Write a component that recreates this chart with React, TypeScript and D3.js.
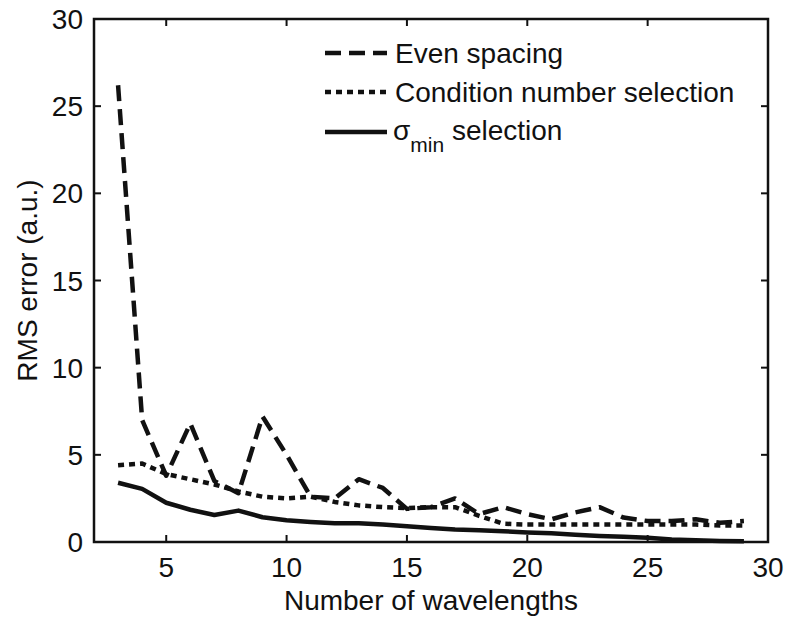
import React, { useRef, useEffect } from "react";
import * as d3 from "d3";

// number of wavelengths
const wavelengths = [3, 4, 5, 6, 7, 8, 9, 10, 11, 12, 13, 14, 15, 16, 17, 18, 19, 20, 21, 22, 23, 24, 25, 26, 27, 28, 29];

const evenSpacing = [26.2, 7.0, 3.8, 6.8, 3.5, 2.8, 7.2, 5.0, 2.6, 2.5, 3.6, 3.1, 1.9, 2.0, 2.5, 1.6, 2.0, 1.6, 1.3, 1.7, 2.0, 1.4, 1.2, 1.2, 1.3, 1.1, 1.2];
const conditionSel = [4.4, 4.5, 3.9, 3.6, 3.3, 2.9, 2.6, 2.5, 2.6, 2.3, 2.1, 2.0, 1.95, 2.0, 2.0, 1.5, 1.05, 1.0, 1.0, 1.0, 1.0, 1.0, 1.0, 1.0, 1.0, 0.95, 0.95];
const sigmaMinSel = [3.4, 3.05, 2.25, 1.85, 1.55, 1.8, 1.42, 1.25, 1.15, 1.08, 1.08, 1.0, 0.9, 0.8, 0.72, 0.68, 0.62, 0.55, 0.5, 0.42, 0.35, 0.3, 0.25, 0.15, 0.1, 0.06, 0.05];

const xTicks = [5, 10, 15, 20, 25, 30];
const yTicks = [0, 5, 10, 15, 20, 25, 30];

const seriesList = [
  { name: "Even spacing", values: evenSpacing, dash: "16,8" },
  { name: "Condition number selection", values: conditionSel, dash: "6,5" },
  { name: "selection", values: sigmaMinSel, dash: null },
];

function RmsChart() {
  const ref = useRef<SVGSVGElement>(null);

  useEffect(() => {
    const width = 788;
    const height = 622;
    const m = { left: 94, right: 20, top: 19, bottom: 80 };
    const font = "'Liberation Sans', Arial, sans-serif";
    const ink = "#111";

    const svg = d3.select(ref.current);
    svg.selectAll("*").remove();

    const x = d3.scaleLinear().domain([2, 30]).range([m.left, width - m.right]);
    const y = d3.scaleLinear().domain([0, 30]).range([height - m.bottom, m.top]);

    const [x0, x1] = x.range();
    const [yb, yt] = y.range();
    const tickLen = 7;

    const g = svg.append("g");

    // data lines
    const line = d3
      .line<number>()
      .x((d, i) => x(wavelengths[i]))
      .y((d) => y(d));

    seriesList.forEach((s) => {
      g.append("path")
        .datum(s.values)
        .attr("fill", "none")
        .attr("stroke", ink)
        .attr("stroke-width", 4.5)
        .attr("stroke-linejoin", "round")
        .attr("stroke-dasharray", s.dash)
        .attr("d", line);
    });

    // box
    g.append("rect")
      .attr("x", x0)
      .attr("y", yt)
      .attr("width", x1 - x0)
      .attr("height", yb - yt)
      .attr("fill", "none")
      .attr("stroke", ink)
      .attr("stroke-width", 2.5);

    // inward ticks on all sides
    xTicks.forEach((t) => {
      g.append("line").attr("x1", x(t)).attr("x2", x(t)).attr("y1", yb).attr("y2", yb - tickLen).attr("stroke", ink).attr("stroke-width", 2);
      g.append("line").attr("x1", x(t)).attr("x2", x(t)).attr("y1", yt).attr("y2", yt + tickLen).attr("stroke", ink).attr("stroke-width", 2);
    });
    yTicks.forEach((t) => {
      g.append("line").attr("x1", x0).attr("x2", x0 + tickLen).attr("y1", y(t)).attr("y2", y(t)).attr("stroke", ink).attr("stroke-width", 2);
      g.append("line").attr("x1", x1).attr("x2", x1 - tickLen).attr("y1", y(t)).attr("y2", y(t)).attr("stroke", ink).attr("stroke-width", 2);
    });

    // tick labels
    g.selectAll(".xl")
      .data(xTicks)
      .enter()
      .append("text")
      .attr("x", (d) => x(d))
      .attr("y", yb + 35)
      .attr("text-anchor", "middle")
      .style("font", `28px ${font}`)
      .attr("fill", ink)
      .text((d) => d);

    g.selectAll(".yl")
      .data(yTicks)
      .enter()
      .append("text")
      .attr("x", x0 - 11)
      .attr("y", (d) => y(d) + 10)
      .attr("text-anchor", "end")
      .style("font", `28px ${font}`)
      .attr("fill", ink)
      .text((d) => d);

    // axis titles
    g.append("text")
      .attr("x", (x0 + x1) / 2)
      .attr("y", 610)
      .attr("text-anchor", "middle")
      .style("font", `28px ${font}`)
      .attr("fill", ink)
      .text("Number of wavelengths");

    g.append("text")
      .attr("transform", `translate(37,${(yb + yt) / 2}) rotate(-90)`)
      .attr("text-anchor", "middle")
      .style("font", `28px ${font}`)
      .attr("fill", ink)
      .text("RMS error (a.u.)");

    // legend (no box)
    const leg = g.append("g");
    const rows = [53, 92, 132];
    seriesList.forEach((s, i) => {
      leg.append("line")
        .attr("x1", 325)
        .attr("x2", 387)
        .attr("y1", rows[i])
        .attr("y2", rows[i])
        .attr("stroke", ink)
        .attr("stroke-width", 4.5)
        .attr("stroke-dasharray", s.dash);
    });
    leg.append("text").attr("x", 395).attr("y", 63).style("font", `28px ${font}`).attr("fill", ink).text("Even spacing");
    leg.append("text").attr("x", 395).attr("y", 102).style("font", `28px ${font}`).attr("fill", ink).text("Condition number selection");
    const t3 = leg.append("text").attr("x", 393).attr("y", 140).style("font", `28px ${font}`).attr("fill", ink);
    t3.append("tspan").text("σ");
    t3.append("tspan").attr("dy", 12).style("font-size", "21px").text("min");
    t3.append("tspan").attr("dy", -12).text(" selection");
  }, []);

  return (
    <svg
      ref={ref}
      width={788}
      height={622}
      style={{ position: "absolute", left: 0, top: 0, background: "#fff" }}
    />
  );
}

export default function App() {
  return <RmsChart />;
}
